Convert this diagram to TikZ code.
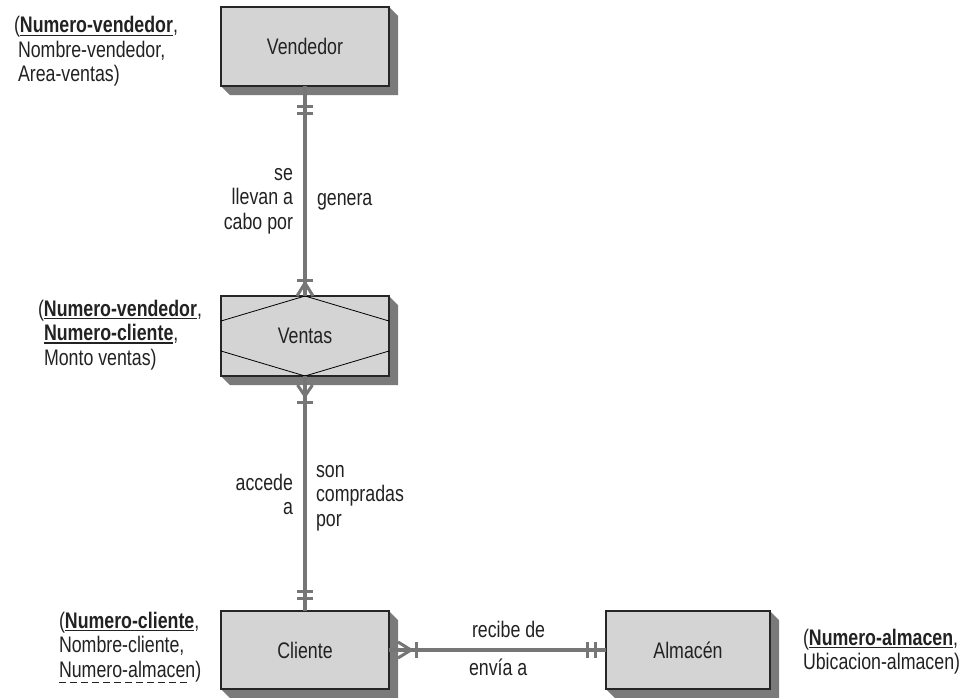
\documentclass[tikz,border=0pt]{standalone}
\usepackage{fontspec}
\setmainfont{Liberation Sans}[FakeStretch=0.79]
\usetikzlibrary{calc,backgrounds}
\definecolor{boxfill}{HTML}{D4D4D4}
\definecolor{shadowc}{HTML}{7A7A7A}
\definecolor{linec}{HTML}{767676}
\definecolor{txt}{HTML}{222222}
\newcommand{\keyf}[1]{\vtop{\hbox{\textbf{#1}}\kern1.6pt\hrule height 1.4pt}}
\newcommand{\fkey}[1]{\setbox0\hbox{#1}\vtop{\copy0\kern5pt\hbox to \wd0{\leaders\hbox to 11pt{\vrule width 6.5pt height 1.2pt\hss}\hfill}}}
\newcommand{\txtblock}[2]{\begin{tabular}[t]{@{}#1@{}}#2\end{tabular}}
\begin{document}
\begin{tikzpicture}[x=1pt,y=-1pt,
  every node/.style={font=\fontsize{22.5}{24.5}\selectfont, text=txt},
  entity/.style={draw=black!85, line width=1.3pt, fill=boxfill, minimum width=168pt, inner sep=0pt, outer sep=0pt},
  rel/.style={draw=linec, line width=4.2pt},
  tick/.style={draw=linec, line width=3pt},
  lbl/.style={inner sep=0pt, outer sep=0pt}]
\useasboundingbox (0,0) rectangle (973,697);

% entities
\node[entity, minimum height=79pt] (vend) at (305,46.5) {Vendedor};
\node[entity, minimum height=80pt] (ventas) at (305,336) {Ventas};
\node[entity, minimum height=78pt] (cli) at (305,650) {Cliente};
\node[entity, minimum height=78pt, minimum width=164pt] (alm) at (688,650) {Almacén};

% shadows
\begin{scope}[on background layer]
\fill[white] (0,0) rectangle (973,697);
\foreach \n in {vend,ventas,cli,alm}
  \fill[shadowc] (\n.north east) -- ($(\n.north east)+(9,9)$) -- ($(\n.south east)+(9,9)$)
     -- ($(\n.south west)+(9,9)$) -- (\n.south west) -- (\n.south east) -- cycle;
\end{scope}

% associative entity decoration
\draw[line width=0.8pt, black] ($(ventas.north west)+(0,25)$) -- (ventas.north) -- ($(ventas.north east)+(0,25)$);
\draw[line width=0.8pt, black] ($(ventas.south west)+(0,-25)$) -- (ventas.south) -- ($(ventas.south east)+(0,-25)$);

% connectors
\draw[rel] (vend.south) -- (ventas.north);
\draw[rel] (ventas.south) -- (cli.north);
\draw[rel] (cli.east) -- (alm.west);

% Vendedor end: one and only one
\draw[tick] ($(vend.south)+(-8,20)$) -- ++(16,0);
\draw[tick] ($(vend.south)+(-8,27)$) -- ++(16,0);
% Ventas top: one or many
\draw[tick] ($(ventas.north)+(-8,-16)$) -- ++(16,0);
\draw[tick] ($(ventas.north)+(-8,0)$) -- ($(ventas.north)+(0,-13)$) -- ($(ventas.north)+(8,0)$);
% Ventas bottom: one or many
\draw[tick] ($(ventas.south)+(-7.5,9)$) -- ($(ventas.south)+(0,20)$) -- ($(ventas.south)+(7.5,9)$);
\draw[tick] ($(ventas.south)+(-8,26)$) -- ++(16,0);
% Cliente top: one and only one
\draw[tick] ($(cli.north)+(-8,-20)$) -- ++(16,0);
\draw[tick] ($(cli.north)+(-8,-13)$) -- ++(16,0);
% Cliente east: one or many
\draw[tick] ($(cli.east)+(9,-8)$) -- ($(cli.east)+(22,0)$) -- ($(cli.east)+(9,8)$);
\draw[tick] ($(cli.east)+(27,-8)$) -- ++(0,16);
% Almacen west: one and only one
\draw[tick] ($(alm.west)+(-19,-8)$) -- ++(0,16);
\draw[tick] ($(alm.west)+(-11,-8)$) -- ++(0,16);

% attribute lists
\node[lbl, anchor=base west] (avend) at (14,32.7) {\txtblock{l}{(\keyf{Numero-vendedor},\\\hspace{4pt}Nombre-vendedor,\\\hspace{4pt}Area-ventas)}};
\node[lbl, anchor=base west] (aventas) at (38,316) {\txtblock{l}{(\keyf{Numero-vendedor},\\\hspace{6pt}\keyf{Numero-cliente},\\\hspace{6pt}Monto ventas)}};
\node[lbl, anchor=base west] (acli) at (59,628) {\txtblock{l}{(\keyf{Numero-cliente},\\Nombre-cliente,\\\fkey{Numero-almacen})}};
\node[lbl, anchor=base west] (aalm) at (803,645) {\txtblock{l}{(\keyf{Numero-almacen},\\Ubicacion-almacen)}};

% relationship labels
\node[lbl, anchor=base east] (r1) at (293,180) {\txtblock{r}{se\\llevan a\\cabo por}};
\node[lbl, anchor=base west] (r2) at (317,205) {genera};
\node[lbl, anchor=base east] (r3) at (293,490) {\txtblock{r}{accede\\a}};
\node[lbl, anchor=base west] (r4) at (316,477) {\txtblock{l}{son\\compradas\\por}};
\node[lbl, anchor=base west] (r5) at (472,637) {recibe de};
\node[lbl, anchor=base west] (r6) at (469,675) {envía a};
\end{tikzpicture}
\end{document}
